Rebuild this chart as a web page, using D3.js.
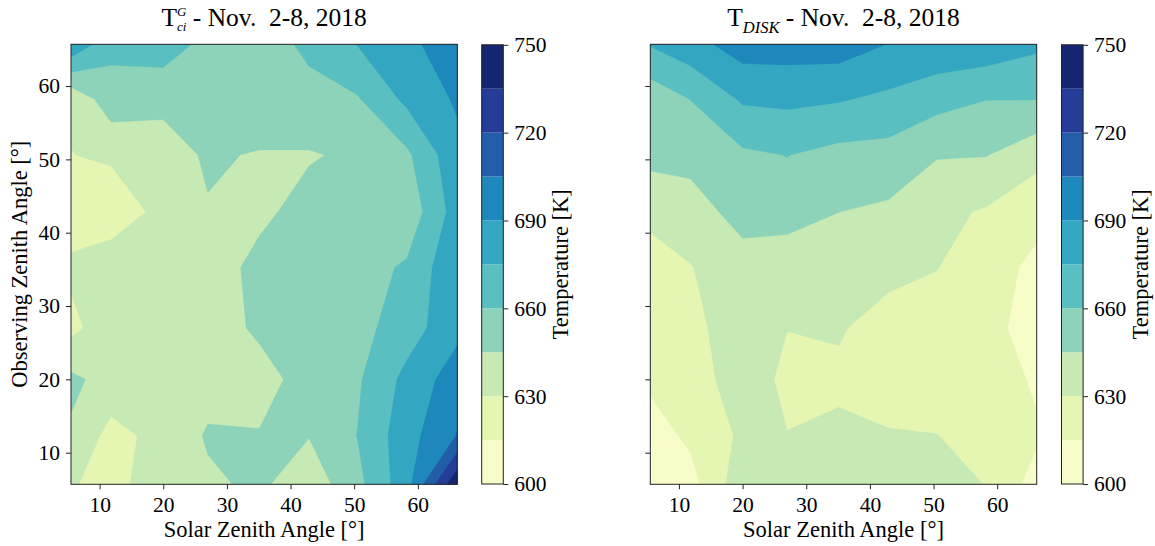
<!DOCTYPE html>
<html>
<head>
<meta charset="utf-8">
<script src="https://cdn.jsdelivr.net/npm/d3@7"></script>
<style>
  body { margin: 0; background: #fff; }
  svg text { font-family: "Liberation Serif", "DejaVu Serif", "Noto Serif", serif; fill: #000; }
</style>
</head>
<body>
<svg id="chart" width="1155" height="546" font-family="Liberation Serif"></svg>
<script>
// solar zenith angle bins (x) and observing zenith angle bins (y, top row first)
const szaGrid = [5.5, 11.8, 20.0, 27.0, 35.1, 42.9, 50.5, 58.3, 66.2];
const ozaGrid = [65.7, 58.2, 50.6, 42.85, 35.25, 27.0, 20.0, 12.3, 5.7];

// T_ci^G, one row per observing zenith bin (top to bottom)
const tciValues = [
  688, 664, 668, 655.5, 655.5, 662, 675.5, 686, 700,
  633, 653.5, 649, 652, 657, 657, 658.7, 678.4, 692,
  629.6, 633, 638, 647, 643.8, 643.8, 647.5, 657.3, 686,
  622, 618, 636, 644, 642, 650, 645.3, 650, 682,
  633, 642, 637, 638, 649, 652, 654, 662, 688,
  626, 639, 638, 642.4, 645.9, 652, 655, 667.8, 686,
  648, 639.7, 638, 639.3, 643, 647.1, 658, 679.4, 698,
  643, 625, 635, 646.5, 645.3, 645.5, 660.3, 684.2, 705.6,
  632, 622, 644, 642.6, 647.7, 636, 655.7, 684.5, 748
];

// T_DISK
const tdiskValues = [
  676, 684.6, 697, 697.1, 697.4, 689.7, 686.3, 684.6, 678,
  650.5, 660.2, 677, 678.3, 676.2, 671.8, 665.4, 660.3, 660.3,
  648, 651, 657.5, 660.3, 655.4, 654.7, 646, 645.5, 635.2,
  637.3, 636.7, 652, 654, 645.1, 642.4, 633.5, 628.6, 618.4,
  617.6, 629.5, 637.3, 632, 638, 636, 630.5, 619.7, 612.4,
  619, 626, 638, 630.2, 632, 621.5, 622, 618.6, 610,
  618, 624, 636.5, 627.3, 626.1, 620.7, 622, 624, 612.6,
  608, 618, 632.6, 630.3, 634, 631.5, 630.3, 624, 617,
  605, 609.2, 640, 636, 638, 636, 634, 629.7, 608.7
];

const levels = d3.range(600, 751, 15);
const cbTicks = [600, 630, 660, 690, 720, 750];
const xTicks = [10, 20, 30, 40, 50, 60];
const yTicks = [10, 20, 30, 40, 50, 60];

// matplotlib YlGnBu, sampled at the middle of each band
const ylgnbu = ["#ffffd9", "#edf8b1", "#c7e9b4", "#7fcdbb", "#41b6c4", "#1d91c0", "#225ea8", "#253494", "#081d58"];
const cmap = d3.piecewise(d3.interpolateRgb, ylgnbu);
const bandColor = d3.range(levels.length - 1).map(i => cmap((i + 0.5) / (levels.length - 1)));

const serif = '"Liberation Serif", "DejaVu Serif", serif';
const svg = d3.select("#chart");
const plotTop = 44.3, plotBottom = 484.3;
const tickSize = 21.5, labelSize = 22.5;

// grid index (sample i sits at i + 0.5 in d3.contours space) -> angle
const gx = d3.scaleLinear().domain(szaGrid.map((d, i) => i + 0.5)).range(szaGrid);
const gy = d3.scaleLinear().domain(ozaGrid.map((d, i) => i + 0.5)).range(ozaGrid);

function label(sel) {
  return sel.style("font-family", serif).attr("fill", "#000");
}

function panel(opts) {
  var x = d3.scaleLinear().domain([5.5, 66.2]).range([opts.left, opts.right]);
  var y = d3.scaleLinear().domain([5.69, 65.69]).range([plotBottom, plotTop]);

  var clipId = "clip" + opts.id;
  svg.append("clipPath").attr("id", clipId)
    .append("rect")
    .attr("x", opts.left).attr("y", plotTop)
    .attr("width", opts.right - opts.left).attr("height", plotBottom - plotTop);

  var contours = d3.contours()
    .size([szaGrid.length, ozaGrid.length])
    .thresholds(levels.slice(0, -1))(opts.values);

  var proj = d3.geoTransform({
    point: function(px, py) { this.stream.point(x(gx(px)), y(gy(py))); }
  });
  var path = d3.geoPath(proj);

  svg.append("g")
    .attr("clip-path", "url(#" + clipId + ")")
    .selectAll("path")
    .data(contours)
    .enter().append("path")
    .attr("d", path)
    .attr("fill", function(d) { return bandColor[levels.indexOf(d.value)]; })
    .attr("stroke", function(d) { return bandColor[levels.indexOf(d.value)]; })
    .attr("stroke-width", 0.3);

  // axes
  var xAxis = svg.append("g")
    .attr("transform", "translate(0," + plotBottom + ")")
    .call(d3.axisBottom(x).tickValues(xTicks).tickSize(5).tickPadding(7).tickFormat(d3.format("d")));
  var yAxis = svg.append("g")
    .attr("transform", "translate(" + opts.left + ",0)")
    .call(d3.axisLeft(y).tickValues(yTicks).tickSize(5).tickPadding(6)
      .tickFormat(opts.yLabels ? d3.format("d") : ""));
  [xAxis, yAxis].forEach(function(a) {
    a.attr("font-family", serif).attr("font-size", tickSize);
    a.select(".domain").remove();
    a.selectAll(".tick line").attr("stroke", "#222");
    label(a.selectAll(".tick text"));
  });

  svg.append("rect")
    .attr("x", opts.left).attr("y", plotTop)
    .attr("width", opts.right - opts.left).attr("height", plotBottom - plotTop)
    .attr("fill", "none").attr("stroke", "#222").attr("stroke-width", 1);

  var cx = (opts.left + opts.right) / 2;
  label(svg.append("text"))
    .attr("x", cx).attr("y", 537)
    .attr("text-anchor", "middle").attr("font-size", labelSize)
    .text("Solar Zenith Angle [°]");

  if (opts.yLabels) {
    label(svg.append("text"))
      .attr("transform", "translate(27," + (plotTop + plotBottom) / 2 + ")rotate(-90)")
      .attr("text-anchor", "middle").attr("font-size", labelSize)
      .text("Observing Zenith Angle [°]");
  }

  // title with sub/superscripts
  var t = label(svg.append("text"))
    .attr("x", cx).attr("y", 26)
    .attr("text-anchor", "middle").attr("font-size", 25.5)
    .style("white-space", "pre");
  t.append("tspan").text("T");
  if (opts.id === "ci") {
    var sup = t.append("tspan").attr("font-style", "italic").attr("font-size", 13).attr("dy", -10).text("G");
    var w = sup.node().getComputedTextLength();
    t.append("tspan").attr("font-style", "italic").attr("font-size", 13)
      .attr("dx", -w).attr("dy", 15).text("ci");
    t.append("tspan").attr("dy", -5).text(" - Nov.  2-8, 2018");
  } else {
    t.append("tspan").attr("font-style", "italic").attr("font-size", 16.5).attr("dy", 7).text("DISK");
    t.append("tspan").attr("dy", -7).text(" - Nov.  2-8, 2018");
  }

  // colorbar
  var cb = d3.scaleLinear().domain([600, 750]).range([484, 44.8]);
  var cbW = 21.6;
  svg.append("g").selectAll("rect")
    .data(d3.range(levels.length - 1))
    .enter().append("rect")
    .attr("x", opts.cbLeft)
    .attr("y", function(i) { return cb(levels[i + 1]); })
    .attr("width", cbW)
    .attr("height", function(i) { return cb(levels[i]) - cb(levels[i + 1]); })
    .attr("fill", function(i) { return bandColor[i]; });
  svg.append("rect")
    .attr("x", opts.cbLeft).attr("y", cb(750))
    .attr("width", cbW).attr("height", cb(600) - cb(750))
    .attr("fill", "none").attr("stroke", "#222").attr("stroke-width", 1);
  var cbAxis = svg.append("g")
    .attr("transform", "translate(" + (opts.cbLeft + cbW) + ",0)")
    .call(d3.axisRight(cb).tickValues(cbTicks).tickSize(5).tickPadding(6));
  cbAxis.attr("font-family", serif).attr("font-size", tickSize);
  cbAxis.select(".domain").remove();
  cbAxis.selectAll(".tick line").attr("stroke", "#222");
  label(cbAxis.selectAll(".tick text"));

  label(svg.append("text"))
    .attr("transform", "translate(" + (opts.cbLeft + cbW + 65) + "," + (plotTop + plotBottom) / 2 + ")rotate(-90)")
    .attr("text-anchor", "middle").attr("font-size", labelSize)
    .text("Temperature [K]");
}

panel({ id: "ci", values: tciValues, left: 71, right: 457.3, cbLeft: 481.7, yLabels: true });
panel({ id: "disk", values: tdiskValues, left: 650.3, right: 1036.7, cbLeft: 1061.5, yLabels: false });
</script>
</body>
</html>
